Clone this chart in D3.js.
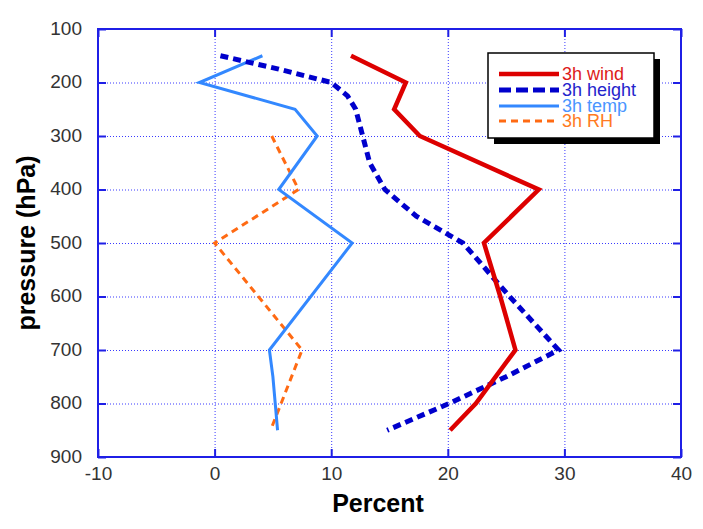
<!DOCTYPE html>
<html>
<head>
<meta charset="utf-8">
<script src="https://cdn.jsdelivr.net/npm/d3@7"></script>
<style>
  body { margin: 0; background: #fff; }
  svg { display: block; font-family: "Liberation Sans", Arial, Helvetica, sans-serif; }
</style>
</head>
<body>
<svg id="chart" width="703" height="529"></svg>
<script>
// Axis ticks
const percentTicks = [-10, 0, 10, 20, 30, 40];
const pressureTicks = [100, 200, 300, 400, 500, 600, 700, 800, 900];

// 3-hour change profiles (percent) against pressure (hPa)
const windLevels = [150, 200, 250, 300, 400, 500, 600, 700, 800, 850];
const windValues = [11.7, 16.4, 15.4, 17.6, 27.8, 23.1, 24.5, 25.8, 22.4, 20.2];

const heightLevels = [150, 175, 200, 225, 250, 300, 350, 400, 450, 500, 600, 700, 750, 800, 850];
const heightValues = [0.5, 5.5, 10.0, 11.4, 12.1, 12.7, 13.3, 14.6, 17.3, 21.3, 25.3, 29.5, 25.0, 20.1, 14.8];

const tempLevels = [150, 200, 250, 300, 400, 500, 700, 750, 800, 850];
const tempValues = [4.1, -1.3, 6.9, 8.8, 5.5, 11.8, 4.7, 5.0, 5.2, 5.4];

const rhLevels = [300, 400, 500, 700, 850];
const rhValues = [4.9, 7.2, 0.0, 7.5, 4.8];

const seriesNames = ["3h wind", "3h height", "3h temp", "3h RH"];

const series = [
  { name: seriesNames[0], levels: windLevels, values: windValues, color: "#dd0000", width: 4.5, dash: null, legendDash: null, text: "#dd1a1a" },
  { name: seriesNames[1], levels: heightLevels, values: heightValues, color: "#0000cc", width: 5, dash: "8,5", legendDash: "12,5", text: "#2424cc" },
  { name: seriesNames[2], levels: tempLevels, values: tempValues, color: "#3388ff", width: 3, dash: null, legendDash: null, text: "#4a95ff" },
  { name: seriesNames[3], levels: rhLevels, values: rhValues, color: "#ff6a13", width: 3, dash: "7,5", legendDash: "7,5", text: "#ff7a22" }
];

const svg = d3.select("#chart");
const plotLeft = 98, plotRight = 681, plotTop = 29, plotBottom = 457;
const plotW = plotRight - plotLeft, plotH = plotBottom - plotTop;

const x = d3.scaleLinear().domain([-10, 40]).range([plotLeft, plotRight]);
const y = d3.scaleLinear().domain([100, 900]).range([plotTop, plotBottom]);

const axisBlue = "#1f1fe6";
const gridBlue = "#3a3aff";
const plainNumber = d => String(d);

// Dotted grid
const gridX = svg.append("g").attr("transform", `translate(0,${plotBottom})`)
  .call(d3.axisBottom(x).tickValues(percentTicks.slice(1, -1)).tickSize(-plotH).tickFormat(""));
const gridY = svg.append("g").attr("transform", `translate(${plotLeft},0)`)
  .call(d3.axisLeft(y).tickValues(pressureTicks.slice(1, -1)).tickSize(-plotW).tickFormat(""));
[gridX, gridY].forEach(g => {
  g.select(".domain").remove();
  g.selectAll("line").attr("stroke", gridBlue).attr("stroke-width", 1).attr("stroke-dasharray", "1,2");
});

// Inward ticks on all four sides
const tickLen = 8;
const tickGroups = [
  svg.append("g").attr("transform", `translate(0,${plotBottom})`).call(d3.axisBottom(x).tickValues(percentTicks).tickSize(-tickLen).tickFormat("")),
  svg.append("g").attr("transform", `translate(0,${plotTop})`).call(d3.axisTop(x).tickValues(percentTicks).tickSize(-tickLen).tickFormat("")),
  svg.append("g").attr("transform", `translate(${plotLeft},0)`).call(d3.axisLeft(y).tickValues(pressureTicks).tickSize(-tickLen).tickFormat("")),
  svg.append("g").attr("transform", `translate(${plotRight},0)`).call(d3.axisRight(y).tickValues(pressureTicks).tickSize(-tickLen).tickFormat(""))
];
tickGroups.forEach(g => {
  g.select(".domain").remove();
  g.selectAll("line").attr("stroke", axisBlue).attr("stroke-width", 2);
});

// Tick labels
const xLabels = svg.append("g").attr("transform", `translate(0,${plotBottom})`)
  .call(d3.axisBottom(x).tickValues(percentTicks).tickSize(0).tickPadding(10).tickFormat(plainNumber));
const yLabels = svg.append("g").attr("transform", `translate(${plotLeft},0)`)
  .call(d3.axisLeft(y).tickValues(pressureTicks).tickSize(0).tickPadding(16).tickFormat(plainNumber));
[xLabels, yLabels].forEach(g => {
  g.select(".domain").remove();
  g.selectAll("text").attr("fill", "#333").style("font-size", "19px")
    .style("font-family", "'Liberation Sans', Arial, sans-serif");
});
yLabels.selectAll("text").attr("dy", "0.28em");

// Plot frame
svg.append("rect").attr("x", plotLeft).attr("y", plotTop).attr("width", plotW).attr("height", plotH)
  .attr("fill", "none").attr("stroke", axisBlue).attr("stroke-width", 2);

// Profiles
const line = d3.line().x(d => x(d.v)).y(d => y(d.p));
const drawOrder = [3, 2, 1, 0];
drawOrder.forEach(i => {
  const s = series[i];
  const pts = s.levels.map((p, k) => ({ p, v: s.values[k] }));
  svg.append("path").datum(pts).attr("d", line)
    .attr("fill", "none").attr("stroke", s.color).attr("stroke-width", s.width)
    .attr("stroke-linejoin", "miter").attr("stroke-dasharray", s.dash);
});

// Legend with drop shadow
const lg = svg.append("g");
const lx = 488, ly = 53, lw = 166, lh = 85;
lg.append("rect").attr("x", lx + 6).attr("y", ly + 6).attr("width", lw).attr("height", lh).attr("fill", "#000");
lg.append("rect").attr("x", lx).attr("y", ly).attr("width", lw).attr("height", lh)
  .attr("fill", "#fff").attr("stroke", "#000").attr("stroke-width", 1.5);
const rowY = [74, 90, 106, 121];
series.forEach((s, i) => {
  lg.append("line").attr("x1", 499).attr("x2", 559).attr("y1", rowY[i]).attr("y2", rowY[i])
    .attr("stroke", s.color).attr("stroke-width", s.width).attr("stroke-dasharray", s.legendDash);
  lg.append("text").attr("x", 562).attr("y", rowY[i]).attr("dy", "0.36em")
    .attr("fill", s.text).style("font-size", "18px").text(s.name);
});

// Axis titles
svg.append("text").attr("x", 378).attr("y", 512).attr("text-anchor", "middle")
  .style("font-size", "25px").style("font-weight", "bold").attr("fill", "#000").text("Percent");
svg.append("text").attr("transform", "translate(35,243) rotate(-90)").attr("text-anchor", "middle")
  .style("font-size", "25px").style("font-weight", "bold").attr("fill", "#000").text("pressure (hPa)");
</script>
</body>
</html>
